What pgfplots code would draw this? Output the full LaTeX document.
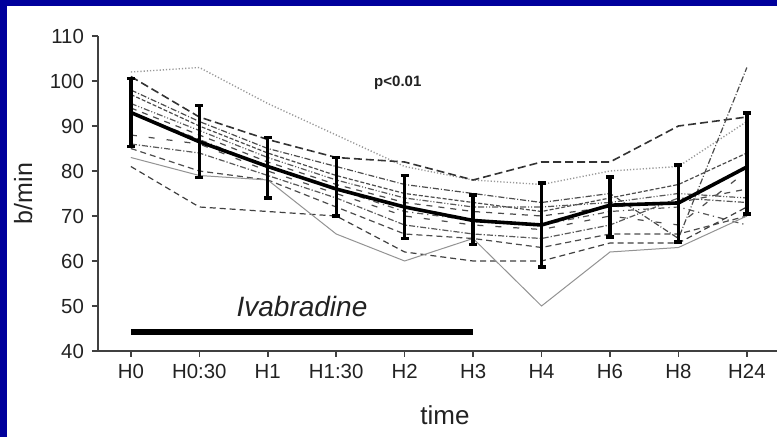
\documentclass[border=0pt]{standalone}
\usepackage{pgfplots}
\pgfplotsset{compat=1.18}
\usepackage{fontspec}
\setmainfont{Liberation Sans}
\definecolor{frameblue}{HTML}{00009C}
\definecolor{txt}{HTML}{222222}
\begin{document}
\begin{tikzpicture}[x=1pt,y=1pt]
\useasboundingbox (0,0) rectangle (388.5,218.5);
\fill[frameblue] (0,0) rectangle (388.5,218.5);
\fill[white] (3.5,0) rectangle (388.5,215.5);
\begin{axis}[
  at={(49pt,43pt)}, anchor=south west, scale only axis,
  width=339.5pt, height=157.5pt,
  xmin=-0.48, xmax=9.44, ymin=40, ymax=110,
  axis x line=bottom, axis y line=left,
  axis line style={-, line width=1pt, black!75},
  xtick={0,...,9}, xticklabels={H0,H0:30,H1,H1:30,H2,H3,H4,H6,H8,H24},
  ytick={40,50,...,110},
  tick align=outside, major tick length=3pt,
  tick style={line width=0.8pt, black!75},
  ticklabel style={font=\fontsize{10.2}{11}\selectfont, text=txt},
  yticklabel style={xshift=-0.5pt},
  /pgf/number format/assume math mode=true,
  xlabel={time}, ylabel={b/min},
  xlabel style={at={(axis description cs:0.511,-0.203)}, anchor=center, font=\fontsize{13}{14}\selectfont},
  ylabel style={at={(axis description cs:-0.11,0.5)}, anchor=center, font=\fontsize{12.5}{14}\selectfont},
  label style={text=txt},
  clip=false,
  every axis plot/.append style={line width=0.6pt},
]
% individual subjects
\addplot[gray!80, densely dotted, line width=0.7pt] coordinates {(0,102) (1,103) (2,95) (3,88) (4,81) (5,78) (6,77) (7,80) (8,81) (9,91)};
\addplot[black!80, dash pattern=on 4pt off 2pt, line width=0.8pt] coordinates {(0,101) (1,92) (2,87) (3,83) (4,82) (5,78) (6,82) (7,82) (8,90) (9,92)};
\addplot[black!70, dash pattern=on 3pt off 1pt on 0.5pt off 1pt] coordinates {(0,98) (1,91) (2,85) (3,81) (4,77) (5,75) (6,73) (7,75) (8,65) (9,103)};
\addplot[black!70, dash pattern=on 2pt off 1pt] coordinates {(0,97) (1,90) (2,84) (3,79) (4,75) (5,73) (6,71) (7,74) (8,77) (9,84)};
\addplot[black!65, dash pattern=on 3pt off 1pt on 0.5pt off 1pt on 0.5pt off 1pt] coordinates {(0,95) (1,89) (2,83) (3,78) (4,74) (5,72) (6,72) (7,73) (8,75) (9,74)};
\addplot[black!70, dashed] coordinates {(0,94) (1,88) (2,82) (3,77) (4,73) (5,71) (6,70) (7,72) (8,73) (9,76)};
\addplot[black!65, dash dot] coordinates {(0,93) (1,87) (2,81) (3,76) (4,71) (5,69) (6,68) (7,71) (8,72) (9,68)};
\addplot[black!70, loosely dashed] coordinates {(0,88) (1,86) (2,80) (3,75) (4,70) (5,68) (6,67) (7,70) (8,68) (9,80)};
\addplot[black!65, densely dash dot] coordinates {(0,86) (1,84) (2,79) (3,74) (4,68) (5,66) (6,65) (7,68) (8,74) (9,73)};
\addplot[black!70, densely dashed] coordinates {(0,85) (1,80) (2,78) (3,72) (4,66) (5,65) (6,63) (7,66) (8,66) (9,70)};
\addplot[black!75, dash pattern=on 3pt off 2pt] coordinates {(0,81) (1,72) (2,71) (3,70) (4,62) (5,60) (6,60) (7,64) (8,64) (9,72)};
\addplot[gray!85, line width=0.5pt] coordinates {(0,83) (1,79) (2,78) (3,66) (4,60) (5,65) (6,50) (7,62) (8,63) (9,70)};
% mean with error bars
\addplot[black, line width=1.8pt,
  error bars/.cd, y dir=both, y explicit,
  error bar style={line width=1.7pt, black},
  error mark options={rotate=90, mark size=2pt, line width=1.7pt}]
 coordinates {
 (0,93) += (0,7.5) -= (0,7.5)
 (1,86.5) += (0,8) -= (0,8)
 (2,81) += (0,6.5) -= (0,7)
 (3,76) += (0,7) -= (0,6)
 (4,72) += (0,7) -= (0,7)
 (5,69) += (0,5.7) -= (0,5.4)
 (6,68) += (0,9.3) -= (0,9.3)
 (7,72.4) += (0,6.3) -= (0,7.1)
 (8,72.9) += (0,8.4) -= (0,8.7)
 (9,80.9) += (0,12) -= (0,10.5)
 };
% ivabradine bar
\addplot[black, line width=3.2pt] coordinates {(0,44.2) (5,44.2)};
\node[font=\fontsize{14}{16}\selectfont\itshape, text=txt] at (axis cs:2.5,49.8) {Ivabradine};
\node[font=\fontsize{7.5}{8}\selectfont\bfseries, text=txt] at (axis cs:3.9,99.6) {p<0.01};
\end{axis}
\end{tikzpicture}
\end{document}
